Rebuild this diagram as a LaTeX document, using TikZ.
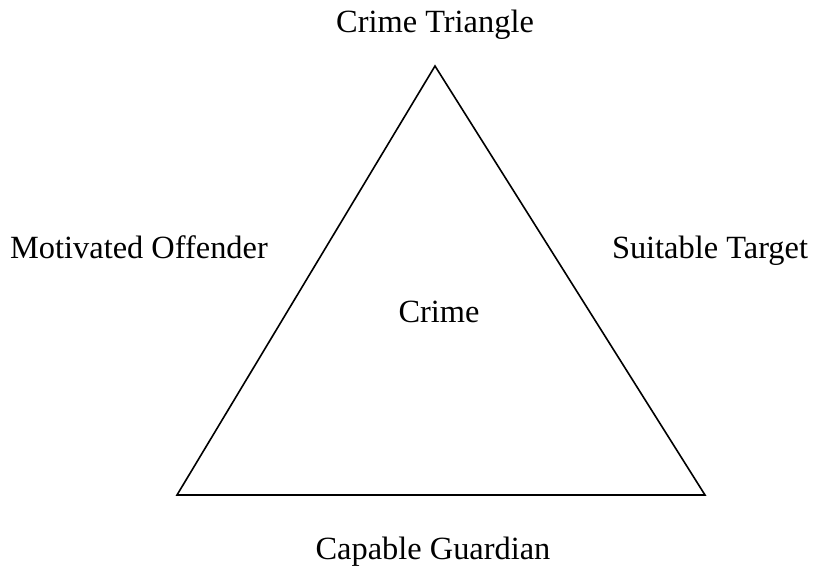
\documentclass[tikz,border=0pt]{standalone}
\usepackage{fontspec}
\setmainfont{Liberation Serif}
\begin{document}
\begin{tikzpicture}[x=1pt,y=-1pt,
  lbl/.style={anchor=base,inner sep=0pt,font=\fontsize{32.4}{38}\selectfont},
  edge/.style={draw=black,line width=1.6pt,line join=miter}]
\useasboundingbox (0,0) rectangle (814,567);
\coordinate (top) at (435,66);
\coordinate (bl) at (177,495);
\coordinate (br) at (705,495);
\draw[edge] (top) -- (br) -- (bl) -- cycle;
\node[lbl] (title) at (435,33) {Crime Triangle};
\node[lbl] (mo) at (139,258) {Motivated Offender};
\node[lbl] (st) at (710,258) {Suitable Target};
\node[lbl] (crime) at (439,322) {Crime};
\node[lbl] (cg) at (433,559.5) {Capable Guardian};
\end{tikzpicture}
\end{document}
